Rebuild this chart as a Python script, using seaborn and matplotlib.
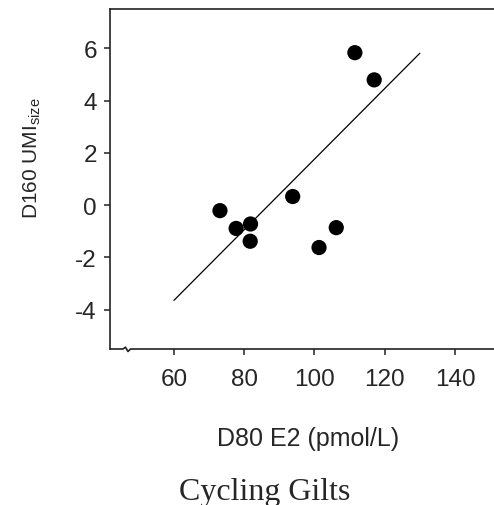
import numpy as np
import pandas as pd
import matplotlib
matplotlib.use("Agg")
import matplotlib.pyplot as plt
import seaborn as sns

# values
e2 = [73.1, 77.7, 81.8, 81.7, 93.8, 101.3, 106.2, 111.5, 117.0]
umi = [-0.21, -0.89, -0.72, -1.38, 0.33, -1.62, -0.86, 5.83, 4.79]
fit_x = [60, 130]
fit_y = [-3.64, 5.81]
xticks = [60, 80, 100, 120, 140]
yticks = [-4, -2, 0, 2, 4, 6]

df = pd.DataFrame({"e2": e2, "umi": umi})
fit = pd.DataFrame({"x": fit_x, "y": fit_y})

sns.set_style("ticks")
plt.rcParams["font.family"] = ["Liberation Sans", "DejaVu Sans"]
plt.rcParams["mathtext.fontset"] = "custom"
plt.rcParams["mathtext.rm"] = "Liberation Sans"
plt.rcParams["axes.unicode_minus"] = False

fig = plt.figure(figsize=(4.94, 5.06), dpi=100)
ax = fig.add_axes([110 / 494, 1 - 350 / 506, 384 / 494, 340 / 506])

sns.lineplot(data=fit, x="x", y="y", color="black", linewidth=0.9, ax=ax)
sns.scatterplot(data=df, x="e2", y="umi", color="black", s=120, edgecolor="none", ax=ax, zorder=3)

ax.set_xlim(41.8, 151.1)
ax.set_ylim(-5.5, 7.5)
ax.set_xticks(xticks)
ax.set_yticks(yticks)
ax.tick_params(axis="both", labelsize=17.5, direction="out", length=4.5, width=1.1, color="#222222", pad=5)
ax.tick_params(axis="x", pad=9)

for s in ["left", "top", "right"]:
    ax.spines[s].set_linewidth(1.2)
    ax.spines[s].set_color("#222222")
ax.spines["right"].set_visible(False)
ax.spines["bottom"].set_visible(False)

# bottom axis with small break mark
w, h = 384.0, 340.0
bx = np.array([0, 13, 15.5, 18, 20.5, 390]) / w
by = np.array([0, 0, 1.8, -2.5, 0, 0]) / h
ax.plot(bx, by, transform=ax.transAxes, color="#222222", lw=1.2, clip_on=False)

ax.set_xlabel("D80 E2 (pmol/L)", fontsize=18)
ax.set_ylabel(r"D160 UMI$_{\mathregular{size}}$", fontsize=15)
ax.xaxis.set_label_coords(0.516, -0.226)
ax.yaxis.set_label_coords(-0.175, 0.565)

fig.text(265 / 494, 1 - 500 / 506, "Cycling Gilts", family="Liberation Serif",
         fontsize=23, ha="center", va="baseline")

fig.savefig("out.png", dpi=100)
